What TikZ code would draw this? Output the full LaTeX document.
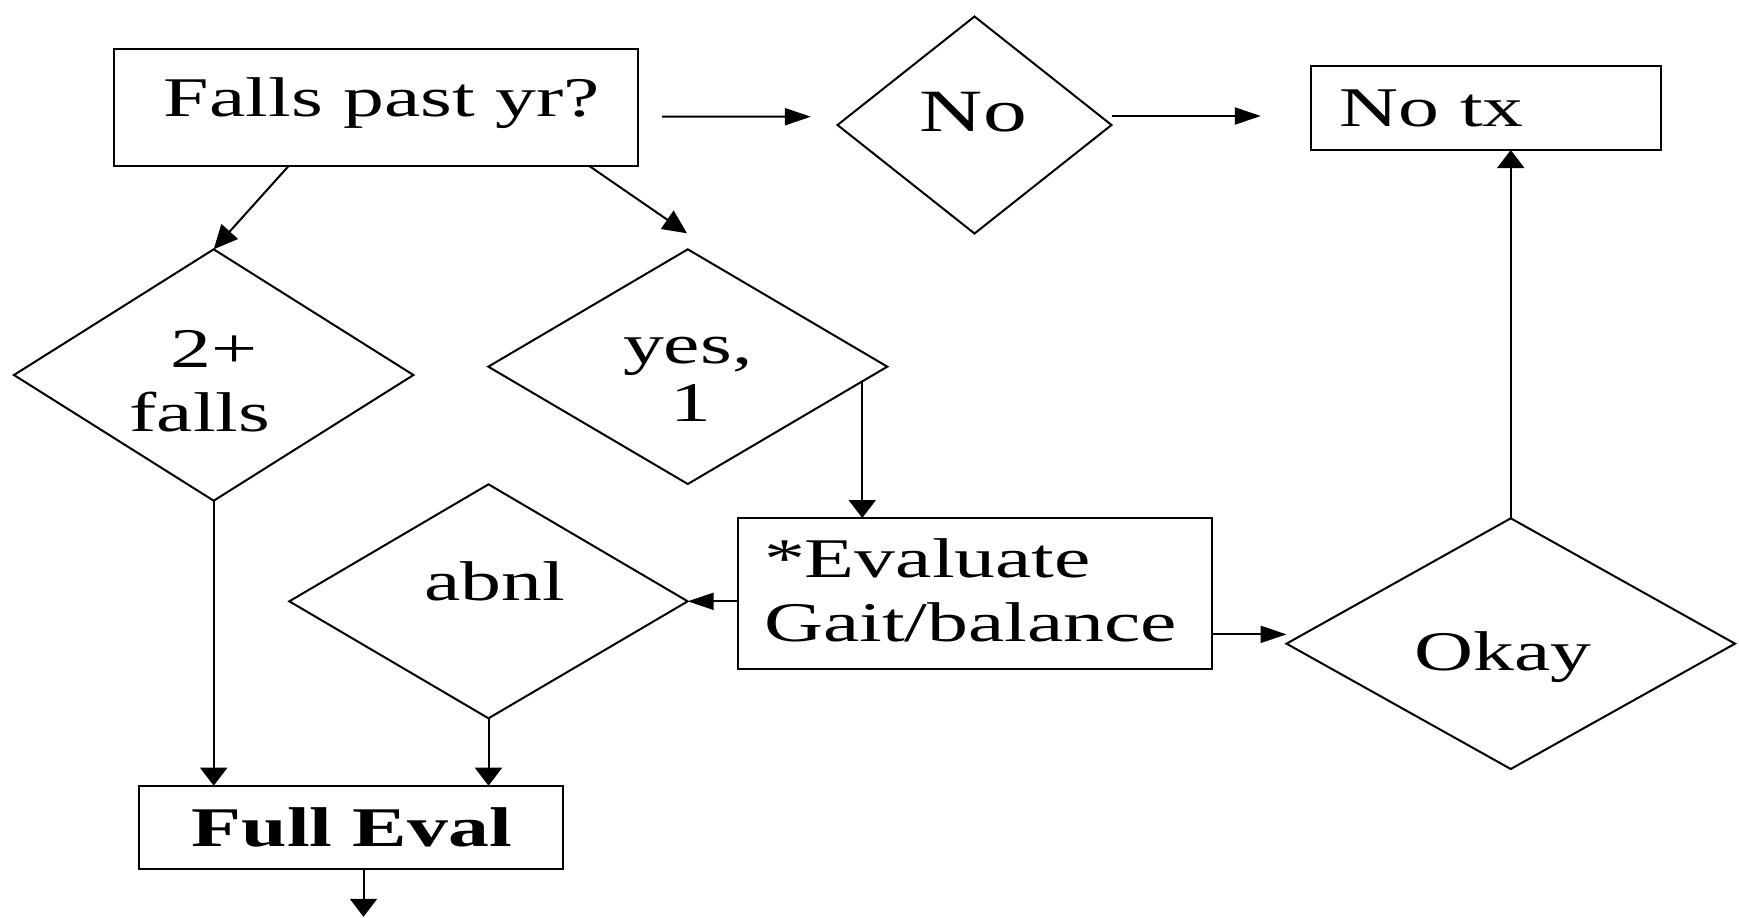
\documentclass[tikz,border=0pt]{standalone}
\usepackage{fontspec}
\setmainfont{Liberation Serif}[FakeStretch=1.46]
\usetikzlibrary{arrows.meta,shapes.geometric,calc}
\begin{document}
\begin{tikzpicture}[x=0.5pt,y=-0.5pt, line width=1pt,
  box/.style={draw, rectangle, inner sep=0pt, outer sep=0pt},
  dia/.style={draw, diamond, inner sep=0pt, outer sep=0pt},
  txt/.style={inner sep=0pt, font=\fontsize{28}{32}\selectfont, anchor=base},
  harr/.style={-{Triangle[length=13pt,width=8.5pt]}},
  varr/.style={-{Triangle[length=9pt,width=13.5pt]}},
  darr/.style={-{Triangle[length=12pt,width=11pt]}}]
\useasboundingbox (0,0) rectangle (1739,917);
% shapes
\node[box, minimum width=262.2pt, minimum height=58.35pt] (falls) at (376,107.65) {};
\node[dia, minimum width=137pt, minimum height=108.5pt] (dno) at (974.5,125) {};
\node[box, minimum width=175pt, minimum height=42pt] (notx) at (1486.2,108) {};
\node[dia, minimum width=199.75pt, minimum height=125.7pt] (dtwo) at (213.7,375) {};
\node[dia, minimum width=199.5pt, minimum height=117.35pt] (dyes) at (687.8,366.65) {};
\node[dia, minimum width=199.2pt, minimum height=117pt] (dab) at (488.5,601.3) {};
\node[box, minimum width=236.9pt, minimum height=75.35pt] (eval) at (974.7,593.35) {};
\node[dia, minimum width=224.25pt, minimum height=125.35pt] (dok) at (1510.75,643.65) {};
\node[box, minimum width=212.3pt, minimum height=41.8pt] (full) at (351,827.5) {};
% texts
\node[txt] (tfalls) at (381.8,116) {Falls past yr?};
\node[txt, font=\fontsize{30}{34}\selectfont] (tno) at (973.5,131.7) {No};
\node[txt] (tnotx) at (1431.7,126) {No tx};
\node[txt] (ttwoa) at (214,367.7) {2+};
\node[txt] (ttwob) at (200,431.7) {falls};
\node[txt] (tyesa) at (687.8,363.3) {yes,};
\node[txt] (tyesb) at (691,421.7) {1};
\node[txt] (tab) at (494.7,600) {abnl};
\node[txt, anchor=base west] (teva) at (763,577.7) {*Evaluate};
\node[txt, anchor=base west] (tevb) at (763,641.7) {Gait/balance};
\node[txt] (tok) at (1502.9,670) {Okay};
\node[txt, font=\fontsize{28}{32}\selectfont\bfseries] (tfull) at (351.8,846.7) {Full Eval};
% connectors
\coordinate (c1) at ($(falls.east)+(24,9)$);
\coordinate (c2) at ($(dno.west)+(-26.6,-8.3)$);
\draw[harr] (c1) -- (c2);
\coordinate (c3) at ($(dno.east)+(0,-9)$);
\coordinate (c4) at ($(notx.west)+(-50.4,8)$);
\draw[harr] (c3) -- (c4);
\coordinate (c9) at ($(falls.south west)+(174.8,0)$);
\draw[darr] (c9) -- (dtwo.north);
\coordinate (c10) at ($(falls.south west)+(475.5,0)$);
\coordinate (c5) at ($(dyes.north)+(-0.8,-16)$);
\draw[darr] (c10) -- (c5);
\coordinate (c6) at ($(dyes.east)!0.1256!(dyes.south)$);
\draw[varr] (c6) -- (c6 |- eval.north);
\draw[harr] (dab.east -| eval.west) -- (dab.east);
\coordinate (c7) at ($(eval.east)+(0,41)$);
\draw[harr] (c7) -- (c7 -| dok.west);
\draw[varr] (dok.north) -- (dok.north |- notx.south);
\draw[varr] (dtwo.south) -- (dtwo.south |- full.north);
\draw[varr] (dab.south) -- (dab.south |- full.north);
\coordinate (c11) at ($(full.south)+(12.5,0)$);
\coordinate (c8) at ($(full.south)+(12.5,47.5)$);
\draw[varr] (c11) -- (c8);
\end{tikzpicture}
\end{document}
